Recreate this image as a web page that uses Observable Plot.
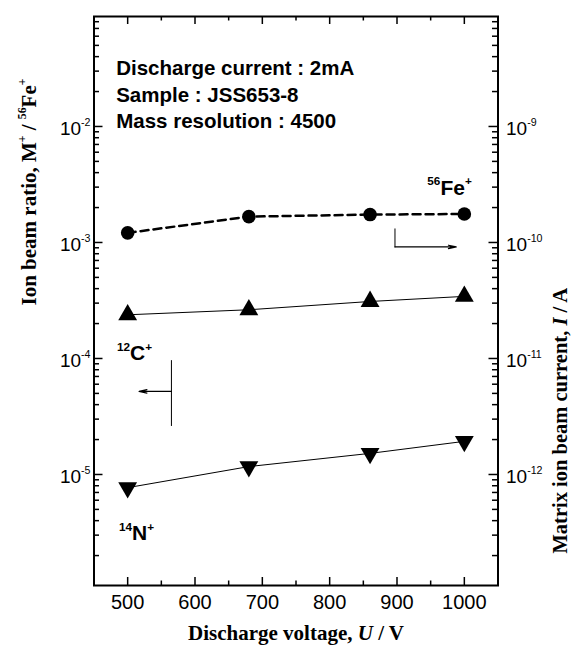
<!DOCTYPE html>
<html>
<head>
<meta charset="utf-8">
<script src="https://cdn.jsdelivr.net/npm/d3@7"></script>
<script src="https://cdn.jsdelivr.net/npm/@observablehq/plot@0.6"></script>
<style>
  html, body { margin: 0; padding: 0; background: #fff; }
  svg { display: block; }
</style>
</head>
<body>
<div id="chart"></div>
<script>
// ---------------- data ----------------
const voltages = [500, 680, 860, 1000];                         // Discharge voltage, V
const feCurrent = [1.21e-10, 1.67e-10, 1.74e-10, 1.76e-10];     // 56Fe+ matrix ion beam current, A (right axis)
const cRatio = [2.38e-4, 2.63e-4, 3.10e-4, 3.43e-4];            // 12C+ / 56Fe+
const nRatio = [7.7e-6, 1.17e-5, 1.52e-5, 1.93e-5];             // 14N+ / 56Fe+
const xTickValues = [500, 600, 700, 800, 900, 1000];
const xMinorValues = [550, 650, 750, 850, 950];
const leftTickExponents = [-5, -4, -3, -2];
const rightTickExponents = [-12, -11, -10, -9];
const axisFactor = 1e7; // right axis (A) -> left axis (ratio): 1e-9 A aligns with 1e-2
const infoLines = ["Discharge current : 2mA", "Sample : JSS653-8", "Mass resolution : 4500"];
const seriesNames = ["[56]Fe[+]", "[12]C[+]", "[14]N[+]"];
const xTitle = "Discharge voltage, {U} / V";
const yTitleLeft = "Ion beam ratio, M[+] / [56]Fe[+]";
const yTitleRight = "Matrix ion beam current, {I} / A";

// ---------------- tables ----------------
const feData = voltages.map((v, i) => ({v, val: feCurrent[i] * axisFactor}));
const cData = voltages.map((v, i) => ({v, val: cRatio[i]}));
const nData = voltages.map((v, i) => ({v, val: nRatio[i]}));

const yDomain = [10 ** -5.957, 10 ** -1.052];
const yMajor = leftTickExponents.map(e => 10 ** e);
const yMinor = [];
for (let e = -6; e <= -1; e++) for (let k = 2; k <= 9; k++) {
  const v = k * 10 ** e;
  if (v > yDomain[0] && v < yDomain[1]) yMinor.push(v);
}

// annotation anchors (data coordinates)
const labelPos = [{x: 945, y: 2.58e-3}, {x: 484, y: 9.7e-5}, {x: 487, y: 2.72e-6}];
const labels = seriesNames.map((t, i) => ({t, ...labelPos[i]}));
const feStem = [{x: 897, y: 1.31e-3}, {x: 897, y: 9.15e-4}];
const feArrow = [{x1: 897, y1: 9.15e-4, x2: 988, y2: 9.15e-4}];
const cStem = [{x: 565, y: 9.6e-5}, {x: 565, y: 2.64e-5}];
const cArrow = [{x1: 565, y1: 5.2e-5, x2: 517, y2: 5.2e-5}];

const W = 573, H = 645;
const mL = 93.5, mR = 75.5, mT = 16, mB = 60;
const plotW = W - mL - mR, plotH = H - mT - mB;

const sans = "'Liberation Sans', Arial, Helvetica, sans-serif";
const serif = "'Liberation Serif', 'Times New Roman', serif";

const triangleDown = {
  draw(ctx, size) {
    const y = -Math.sqrt(size / (3 * Math.sqrt(3)));
    ctx.moveTo(0, -2 * y);
    ctx.lineTo(Math.sqrt(3) * y, y);
    ctx.lineTo(-Math.sqrt(3) * y, y);
    ctx.closePath();
  }
};

const chart = Plot.plot({
  width: W,
  height: H,
  marginLeft: mL,
  marginRight: mR,
  marginTop: mT,
  marginBottom: mB,
  x: {domain: [450, 1050], axis: null},
  y: {type: "log", domain: yDomain, axis: null},
  style: {fontFamily: sans, background: "white", color: "black", overflow: "visible"},
  marks: [
    // ticks (inward)
    Plot.tickX(xTickValues, {x: d => d, insetTop: plotH - 8, stroke: "black", strokeWidth: 1.5}),
    Plot.tickX(xTickValues, {x: d => d, insetBottom: plotH - 8, stroke: "black", strokeWidth: 1.5}),
    Plot.tickX(xMinorValues, {x: d => d, insetTop: plotH - 4.5, stroke: "black", strokeWidth: 1.5}),
    Plot.tickX(xMinorValues, {x: d => d, insetBottom: plotH - 4.5, stroke: "black", strokeWidth: 1.5}),
    Plot.tickY(yMajor, {y: d => d, insetRight: plotW - 9, stroke: "black", strokeWidth: 1.5}),
    Plot.tickY(yMajor, {y: d => d, insetLeft: plotW - 9, stroke: "black", strokeWidth: 1.5}),
    Plot.tickY(yMinor, {y: d => d, insetRight: plotW - 5.5, stroke: "black", strokeWidth: 1.5}),
    Plot.tickY(yMinor, {y: d => d, insetLeft: plotW - 5.5, stroke: "black", strokeWidth: 1.5}),
    Plot.frame({stroke: "black", strokeWidth: 2}),

    // tick labels
    Plot.text(xTickValues, {x: d => d, text: d => String(d), frameAnchor: "bottom", dy: 17.4, lineAnchor: "middle", fontSize: 20, fill: "black"}),
    Plot.text(leftTickExponents, {y: e => 10 ** e, text: e => `10[${e}]`, frameAnchor: "left", textAnchor: "end", dx: -3.5, dy: 2, lineAnchor: "middle", fontSize: 19, fill: "black"}),
    Plot.text(rightTickExponents, {y: e => 10 ** e * axisFactor, text: e => `10[${e}]`, frameAnchor: "right", textAnchor: "start", dx: 8, dy: 2, lineAnchor: "middle", fontSize: 19, fill: "black"}),

    // axis titles
    Plot.text([xTitle], {text: d => d, frameAnchor: "bottom", dy: 54.5, lineAnchor: "bottom", fontFamily: serif, fontWeight: "bold", fontSize: 21, fill: "black"}),
    Plot.text([yTitleLeft], {text: d => d, frameAnchor: "left", dx: -65, dy: 4.5, rotate: -90, lineAnchor: "middle", fontFamily: serif, fontWeight: "bold", fontSize: 21, fill: "black"}),
    Plot.text([yTitleRight], {text: d => d, frameAnchor: "right", dx: 62, dy: -13, rotate: -90, lineAnchor: "middle", fontFamily: serif, fontWeight: "bold", fontSize: 20.5, fill: "black"}),

    // info text
    ...infoLines.map((line, i) => Plot.text([line], {text: d => d, frameAnchor: "top-left", dx: 22.2, dy: 58.6 + i * 26.5, textAnchor: "start", lineAnchor: "bottom", fontWeight: "bold", fontSize: 20.5, fill: "black"})),

    // series
    Plot.line(feData, {x: "v", y: "val", stroke: "black", strokeWidth: 2.5, strokeDasharray: "8,5"}),
    Plot.dot(feData, {x: "v", y: "val", r: 6.8, fill: "black"}),
    Plot.line(cData, {x: "v", y: "val", stroke: "black", strokeWidth: 1}),
    Plot.dot(cData, {x: "v", y: "val", r: 7, symbol: "triangle", fill: "black"}),
    Plot.line(nData, {x: "v", y: "val", stroke: "black", strokeWidth: 1}),
    Plot.dot(nData, {x: "v", y: "val", r: 7, symbol: triangleDown, fill: "black"}),

    // series labels
    Plot.text(labels, {x: "x", y: "y", text: "t", textAnchor: "start", lineAnchor: "bottom", fontWeight: "bold", fontSize: 21, fill: "black"}),

    // axis-pointer arrows
    Plot.line(feStem, {x: "x", y: "y", stroke: "black", strokeWidth: 1}),
    Plot.arrow(feArrow, {x1: "x1", y1: "y1", x2: "x2", y2: "y2", stroke: "black", strokeWidth: 1.2, headLength: 10, headAngle: 25}),
    Plot.line(cStem, {x: "x", y: "y", stroke: "black", strokeWidth: 1}),
    Plot.arrow(cArrow, {x1: "x1", y1: "y1", x2: "x2", y2: "y2", stroke: "black", strokeWidth: 1.2, headLength: 10, headAngle: 25})
  ]
});

document.getElementById("chart").appendChild(chart);

// rich text: [..] = superscript, {..} = italic
const SUP_SCALE = 0.56, SUP_RAISE = 0.45;
chart.querySelectorAll("text").forEach(t => {
  if (t.querySelector("tspan")) return;
  const s = t.textContent;
  if (!/[\[\{]/.test(s)) return;
  const fs = parseFloat(getComputedStyle(t).fontSize);
  t.textContent = "";
  const re = /\[([^\]]*)\]|\{([^}]*)\}|([^\[\{]+)/g;
  let m, raised = false;
  while ((m = re.exec(s))) {
    const ts = document.createElementNS("http://www.w3.org/2000/svg", "tspan");
    if (m[1] !== undefined) {
      ts.textContent = m[1];
      ts.setAttribute("font-size", (fs * SUP_SCALE).toFixed(2));
      if (!raised) { ts.setAttribute("dy", (-fs * SUP_RAISE).toFixed(2)); raised = true; }
    } else {
      ts.textContent = m[2] !== undefined ? m[2] : m[3];
      if (m[2] !== undefined) ts.setAttribute("font-style", "italic");
      if (raised) { ts.setAttribute("dy", (fs * SUP_RAISE).toFixed(2)); raised = false; }
    }
    t.appendChild(ts);
  }
});
</script>
</body>
</html>
